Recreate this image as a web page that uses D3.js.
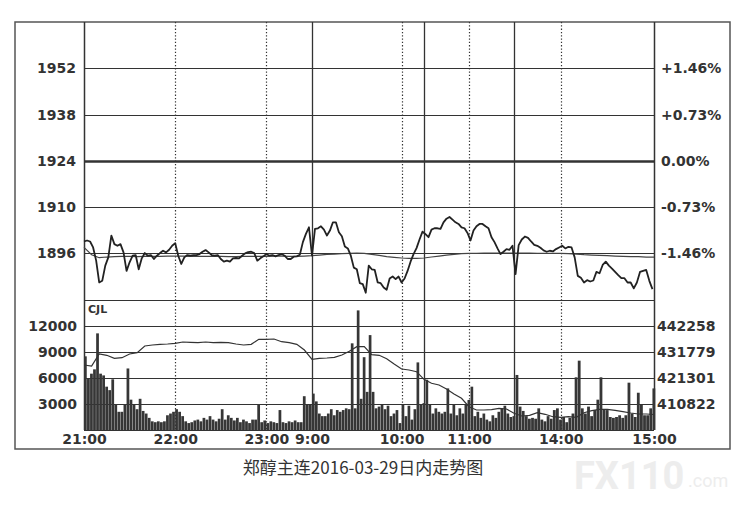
<!DOCTYPE html>
<html><head><meta charset="utf-8">
<script src="https://cdn.jsdelivr.net/npm/d3@7/dist/d3.min.js"></script>
<style>
body{margin:0;background:#fff;}
svg{display:block;}
.ax text{font-family:"DejaVu Sans",Verdana,sans-serif;font-weight:bold;font-size:14px;fill:#333;}
</style></head>
<body><svg id="c" width="754" height="514"></svg>
<script>
// session break minutes (0 = 21:00), 375 trading minutes total
const sessionMinutes = [0, 150, 225, 285, 375];
const priceTicks = [1952, 1938, 1924, 1910, 1896];
const pctLabels = ["+1.46%", "+0.73%", "0.00%", "-0.73%", "-1.46%"];
const volTicks = [12000, 9000, 6000, 3000];
const oiTicks = [442258, 431779, 421301, 410822];
const timeTickMinutes = [0, 60, 120, 150, 210, 255, 315, 375];
const timeLabels = ["21:00", "22:00", "23:00", "9:00", "10:00", "11:00", "14:00", "15:00"];
const dottedMinutes = [60, 120, 210, 255, 315];
const solidMinutes = [150, 225, 285];

// price every 2 minutes
const priceStep = 2;
const price = [
1899.6,1899.9,1899.6,1897.8,1893.8,1887.2,1887.7,1892.3,1894.8,1901.4,
1898.8,1898.3,1898.8,1896.3,1890.7,1893.3,1895.3,1895.5,1891.2,1894.5,
1896.1,1895.3,1895.5,1894.3,1895.3,1896.1,1896.8,1896.3,1897.1,1898.3,
1899.1,1895.3,1892.8,1894.8,1895.5,1895.3,1895.5,1895.5,1895.8,1896.5,
1897.0,1896.3,1895.5,1895.3,1895.5,1894.3,1893.5,1893.8,1893.5,1894.5,
1894.6,1894.5,1895.3,1896.0,1896.4,1896.5,1896.1,1893.8,1894.5,1895.1,
1895.8,1895.3,1895.5,1895.1,1895.5,1895.8,1895.3,1894.3,1894.3,1895.0,
1895.1,1895.6,1899.4,1901.9,1903.9,1895.3,1903.4,1903.6,1904.2,1903.2,
1901.4,1902.9,1905.4,1905.4,1902.4,1901.2,1898.1,1897.5,1895.3,1891.7,
1891.2,1887.0,1886.7,1884.1,1892.3,1891.2,1891.0,1887.2,1887.0,1885.7,
1885.0,1888.4,1889.0,1888.2,1889.0,1887.2,1888.4,1890.7,1893.5,1895.8,
1897.6,1900.2,1902.6,1901.8,1900.9,1903.2,1903.6,1903.6,1903.4,1905.4,
1906.5,1907.0,1906.2,1905.4,1904.9,1903.9,1903.6,1902.2,1899.9,1902.9,
1904.2,1904.9,1904.9,1904.2,1903.6,1900.9,1899.4,1897.5,1895.8,1896.5,
1897.3,1897.1,1898.3,1889.7,1898.5,1900.2,1901.1,1900.7,1899.6,1898.6,
1898.3,1897.7,1896.9,1896.5,1896.8,1896.6,1897.3,1897.8,1898.3,1897.5,
1898.0,1897.8,1894.8,1889.2,1888.6,1887.2,1887.9,1887.5,1887.8,1890.4,
1890.0,1892.5,1893.5,1892.3,1891.4,1890.4,1889.4,1888.5,1888.5,1887.2,
1887.2,1885.4,1887.2,1890.4,1890.7,1891.0,1887.7,1885.2
];

// average price every 5 minutes
const avgStep = 5;
const avgPrice = [
1897.8,1895.6,1894.7,1894.9,1895.0,1895.1,1895.1,1895.0,1895.1,1895.1,
1895.1,1895.2,1895.2,1895.2,1895.1,1895.1,1895.1,1895.1,1895.1,1895.0,
1895.0,1895.1,1895.1,1895.1,1895.1,1895.2,1895.2,1895.1,1895.1,1895.2,
1895.3,1895.5,1895.7,1895.8,1895.9,1896.0,1896.1,1896.0,1895.7,1895.4,
1895.0,1894.8,1894.6,1894.5,1894.5,1894.6,1894.9,1895.2,1895.5,1895.7,
1895.9,1896.0,1896.0,1896.1,1896.1,1896.1,1896.1,1896.1,1896.1,1896.1,
1896.0,1896.0,1896.0,1896.0,1895.9,1895.8,1895.6,1895.5,1895.4,1895.3,
1895.2,1895.1,1895.0,1895.0,1894.9,1894.9
];

// volume (CJL) per 2-minute bar
const volume = [
8500,6000,6500,7000,11150,6500,6300,5000,4600,5850,
3000,2100,2100,3000,7100,3500,2900,2400,3600,2200,
1900,1400,1000,900,1000,900,1000,1700,1900,2100,
2400,2100,1600,1000,800,900,1100,1200,1000,1400,
1200,1600,1200,1000,1300,2400,1200,1700,1400,1100,
1400,900,1200,1000,800,1200,1200,3000,900,1100,
800,1000,900,800,2300,900,800,1000,900,1100,
900,900,3900,2900,2900,4200,3300,1900,1600,1600,
1900,2400,1700,2300,2100,2300,2500,2400,10000,2500,
13800,3600,8400,4400,10950,4400,2500,2700,2900,2400,
2800,1600,1900,2300,800,2900,1600,2800,1200,2400,
7800,3000,3100,5800,3000,1900,2500,2100,1900,2100,
4800,1900,3000,1700,2500,1900,3000,3460,5000,1600,
2100,1400,1900,1200,1000,1700,1400,2100,2500,2800,
1900,1500,1600,6350,2700,2200,1600,1300,1400,1300,
2500,1200,1000,1600,1300,2300,2500,1200,1500,900,
1400,1900,6080,8000,2500,1900,2700,1600,2300,3500,
6080,2400,2300,1500,1400,1500,1700,1400,1700,5460,
1900,1500,4300,2900,1700,1700,2500,4800
];

// open interest every 5 minutes
const oiStep = 5;
const openInterest = [
426540,426137,430973,430449,429240,429482,430973,431497,434198,434601,
434883,435004,435286,435810,435689,435528,435810,435528,435689,435528,
435004,434601,434883,436898,436898,437019,435931,435528,434883,432585,
428837,429240,429361,429643,430570,432062,433915,433915,430691,430449,
429079,426943,424928,424525,423840,420777,419165,418479,416867,414852,
413119,409734,408404,408404,408525,409089,408807,407074,405985,406268,
407315,406671,405703,405461,405703,405461,407315,408121,408686,408686,
408283,407718,407195,406791,406791,406590
];

const caption = "郑醇主连2016-03-29日内走势图";

const svg = d3.select("#c");
const L = 84, R = 654, T = 22, MID = 300, B = 430;

const x = d3.scaleLinear().domain(sessionMinutes).range([84, 312, 424, 514, 654]);
const yP = d3.scaleLinear().domain([1881.9, 1966.0]).range([MID, T]);
const yV = d3.scaleLinear().domain([0, 15000]).range([B, MID]);
const oiStepVal = (oiTicks[0] - oiTicks[3]) / 3;
const yOI = d3.scaleLinear().domain([oiTicks[3] - oiStepVal, oiTicks[0] + oiStepVal]).range([B, MID]);
const snap = v => Math.round(v) + 0.5;

// watermark (faint)
svg.append("text").attr("x", 574).attr("y", 489).attr("font-family", "Roboto, 'DejaVu Sans', sans-serif")
  .attr("font-weight", "bold").attr("font-size", 38).attr("fill", "#ededed").text("FX110");
svg.append("text").attr("x", 688).attr("y", 487).attr("font-family", "Roboto, 'DejaVu Sans', sans-serif")
  .attr("font-size", 18).attr("fill", "#ededed").text(".com");

// outer frame
svg.append("rect").attr("x", 15).attr("y", T).attr("width", 715).attr("height", 427)
  .attr("fill", "none").attr("stroke", "#555").attr("stroke-width", 1.5);

const g = svg.append("g");
// horizontal grid lines price
g.selectAll(".pg").data(priceTicks).join("line")
  .attr("x1", L).attr("x2", R).attr("y1", d => snap(yP(d))).attr("y2", d => snap(yP(d)))
  .attr("stroke", "#333").attr("stroke-width", d => d === 1924 ? 2.6 : 1.1);
// volume grid lines
g.selectAll(".vg").data(volTicks).join("line")
  .attr("x1", L).attr("x2", R).attr("y1", d => snap(yV(d))).attr("y2", d => snap(yV(d)))
  .attr("stroke", "#333").attr("stroke-width", 1.1);
// panel separator
g.append("line").attr("x1", L).attr("x2", R).attr("y1", MID + 0.5).attr("y2", MID + 0.5).attr("stroke", "#333").attr("stroke-width", 1.2);
g.append("line").attr("x1", L).attr("x2", R).attr("y1", B + 0.5).attr("y2", B + 0.5).attr("stroke", "#333").attr("stroke-width", 1);

// vertical lines
g.selectAll(".dv").data(dottedMinutes).join("line")
  .attr("x1", d => snap(x(d))).attr("x2", d => snap(x(d))).attr("y1", T).attr("y2", B)
  .attr("stroke", "#333").attr("stroke-width", 1.2).attr("stroke-dasharray", "1.3,2");
g.selectAll(".sv").data(solidMinutes).join("line")
  .attr("x1", d => snap(x(d))).attr("x2", d => snap(x(d))).attr("y1", T).attr("y2", B)
  .attr("stroke", "#333").attr("stroke-width", 1.3);
g.selectAll(".bv").data([L, R]).join("line")
  .attr("x1", d => d + 0.5).attr("x2", d => d + 0.5).attr("y1", T).attr("y2", B)
  .attr("stroke", "#333").attr("stroke-width", 1.5);

// volume bars (fill each 2-minute slot)
g.selectAll(".vb").data(volume).join("rect")
  .attr("x", (d, i) => x(i * priceStep))
  .attr("width", (d, i) => Math.max(1, x(i * priceStep + priceStep) - x(i * priceStep) - 0.3))
  .attr("y", d => yV(d))
  .attr("height", d => B - yV(d))
  .attr("fill", "#363636");

// open interest line
g.append("path").datum(openInterest)
  .attr("d", d3.line().x((d, i) => x(i * oiStep)).y(d => yOI(d)))
  .attr("fill", "none").attr("stroke", "#333").attr("stroke-width", 1.2);

// avg price line
g.append("path").datum(avgPrice)
  .attr("d", d3.line().x((d, i) => x(i * avgStep)).y(d => yP(d)))
  .attr("fill", "none").attr("stroke", "#444").attr("stroke-width", 1.2);

// price line
g.append("path").datum(price)
  .attr("d", d3.line().x((d, i) => x(i * priceStep)).y(d => yP(d)))
  .attr("fill", "none").attr("stroke", "#222").attr("stroke-width", 1.8).attr("stroke-linejoin", "round");

// axes
const axL = svg.append("g").attr("class", "ax").attr("transform", `translate(${L},0)`)
  .call(d3.axisLeft(yP).tickValues(priceTicks).tickSize(0).tickPadding(8).tickFormat(d3.format("d")));
const axR = svg.append("g").attr("class", "ax").attr("transform", `translate(${R},0)`)
  .call(d3.axisRight(yP).tickValues(priceTicks).tickSize(0).tickPadding(7).tickFormat((d, i) => pctLabels[i]));
const axLV = svg.append("g").attr("class", "ax").attr("transform", `translate(${L},0)`)
  .call(d3.axisLeft(yV).tickValues(volTicks).tickSize(0).tickPadding(7).tickFormat(d3.format("d")));
const axRV = svg.append("g").attr("class", "ax").attr("transform", `translate(${R},0)`)
  .call(d3.axisRight(yOI).tickValues(oiTicks).tickSize(0).tickPadding(3).tickFormat(d3.format("d")));
const axB = svg.append("g").attr("class", "ax").attr("transform", `translate(0,${B})`)
  .call(d3.axisBottom(x).tickValues(timeTickMinutes).tickSize(0).tickPadding(4).tickFormat((d, i) => timeLabels[i]));
[axL, axR, axLV, axRV, axB].forEach(a => a.select(".domain").remove());
axB.selectAll("text").attr("dy", "0.71em");

// CJL label
svg.append("text").attr("x", 88).attr("y", 313).attr("font-family", "'DejaVu Sans', sans-serif")
  .attr("font-weight", "bold").attr("font-size", 11).attr("fill", "#333").text("CJL");

// caption
svg.append("text").attr("x", 363).attr("y", 474).attr("text-anchor", "middle")
  .attr("font-family", "'Noto Sans CJK SC', sans-serif").attr("font-size", 17).attr("fill", "#333").text(caption);
</script></body></html>
